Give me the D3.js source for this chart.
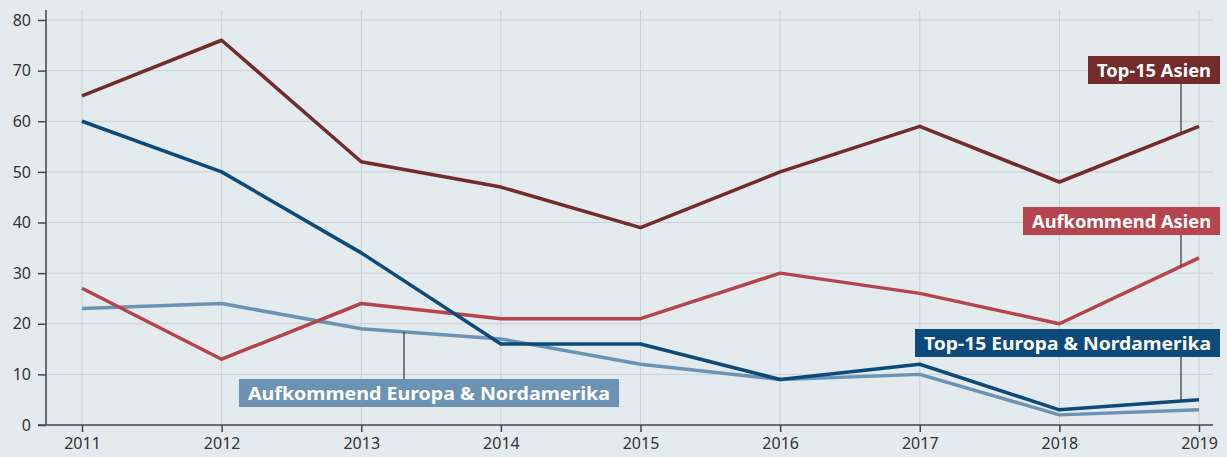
<!DOCTYPE html>
<html lang="de">
<head>
<meta charset="utf-8">
<title>linien</title>
<script src="https://cdn.jsdelivr.net/npm/d3@7"></script>
<style>
  body { margin: 0; background: #e3ebee; }
  svg { display: block; }
</style>
</head>
<body>
<script>
var w = 1227;
var h = 457;

var years = [2011, 2012, 2013, 2014, 2015, 2016, 2017, 2018, 2019];
var top15Asien = [65, 76, 52, 47, 39, 50, 59, 48, 59];
var top15EuNa = [60, 50, 34, 16, 16, 9, 12, 3, 5];
var aufkAsien = [27, 13, 24, 21, 21, 30, 26, 20, 33];
var aufkEuNa = [23, 24, 19, 17, 12, 9, 10, 2, 3];
var yTicks = [0, 10, 20, 30, 40, 50, 60, 70, 80];

// series, drawing order: light ones first
var series = [
    { name: "Aufkommend Europa & Nordamerika", values: aufkEuNa, color: "#6c93b4" },
    { name: "Aufkommend Asien", values: aufkAsien, color: "#b5444c" },
    { name: "Top-15 Europa & Nordamerika", values: top15EuNa, color: "#0b4a7b" },
    { name: "Top-15 Asien", values: top15Asien, color: "#732b2c" }
];

// label boxes: left edge, width, top y, leader x
var labels = [
    { name: "Top-15 Asien", color: "#732b2c", left: 1088, bw: 132, top: 56, lx: 1181, ls: 3 },
    { name: "Aufkommend Asien", color: "#b5444c", left: 1023, bw: 197, top: 207, lx: 1181, ls: 1 },
    { name: "Top-15 Europa & Nordamerika", color: "#0b4a7b", left: 915, bw: 305, top: 329, lx: 1181, ls: 2 },
    { name: "Aufkommend Europa & Nordamerika", color: "#6c93b4", left: 239, bw: 380, top: 379, lx: 404, ls: 0 }
];

var xScale = d3.scaleLinear()
    .domain([2011, 2019])
    .range([82, 1199]);

var yScale = d3.scaleLinear()
    .domain([0, 80])
    .range([425, 20]);

var svg = d3.select("body")
    .append("svg")
    .attr("width", w)
    .attr("height", h);

// grid
svg.selectAll("line.hgrid")
    .data(yTicks.slice(1))
    .enter()
    .append("line")
    .attr("class", "hgrid")
    .attr("x1", 46).attr("x2", 1213)
    .attr("y1", function(d){ return yScale(d); })
    .attr("y2", function(d){ return yScale(d); })
    .attr("stroke", "#c8d0d4")
    .attr("stroke-width", 1);

svg.selectAll("line.vgrid")
    .data(years)
    .enter()
    .append("line")
    .attr("class", "vgrid")
    .attr("x1", function(d){ return xScale(d); })
    .attr("x2", function(d){ return xScale(d); })
    .attr("y1", 10).attr("y2", 425)
    .attr("stroke", "#c8d0d4")
    .attr("stroke-width", 1);

// axes
var yAxis = d3.axisLeft(yScale)
    .tickValues(yTicks)
    .tickSize(8)
    .tickPadding(7);

var xAxis = d3.axisBottom(xScale)
    .tickValues(years)
    .tickFormat(d3.format("d"))
    .tickSize(7)
    .tickPadding(6);

var gy = svg.append("g")
    .attr("transform", "translate(46,0)")
    .call(yAxis);
gy.select(".domain").attr("d", "M0,10V425");

var gx = svg.append("g")
    .attr("transform", "translate(0,425)")
    .call(xAxis);
gx.select(".domain").attr("d", "M38,0H1213");

svg.selectAll(".tick text")
    .attr("font-family", "'Noto Sans', sans-serif")
    .attr("font-size", "16px")
    .attr("fill", "#333");
svg.selectAll(".domain, .tick line")
    .attr("stroke", "#444")
    .attr("stroke-width", 1.5);

// lines
var line = d3.line()
    .x(function(d, i){ return xScale(years[i]); })
    .y(function(d){ return yScale(d); });

svg.selectAll("path.series")
    .data(series)
    .enter()
    .append("path")
    .attr("class", "series")
    .attr("d", function(d){ return line(d.values); })
    .attr("fill", "none")
    .attr("stroke", function(d){ return d.color; })
    .attr("stroke-width", 3.5)
    .attr("stroke-linejoin", "round");

// labels with leader lines
labels.forEach(function(lb) {
    var g = svg.append("g");
    var s = series[lb.ls];
    // value on the line at leader x
    var t = xScale.invert(lb.lx);
    var i = Math.min(Math.floor(t - 2011), years.length - 2);
    var f = t - years[i];
    var v = s.values[i] + (s.values[i + 1] - s.values[i]) * f;
    var below = yScale(v) > lb.top;
    g.append("line")
        .attr("x1", lb.lx).attr("x2", lb.lx)
        .attr("y1", below ? lb.top + 28 : lb.top)
        .attr("y2", yScale(v))
        .attr("stroke", "#333")
        .attr("stroke-width", 1.2);
    g.append("rect")
        .attr("x", lb.left).attr("y", lb.top)
        .attr("width", lb.bw).attr("height", 28)
        .attr("fill", lb.color);
    g.append("text")
        .text(lb.name)
        .attr("x", lb.left + 9)
        .attr("y", lb.top + 21)
        .attr("textLength", lb.bw - 18)
        .attr("lengthAdjust", "spacingAndGlyphs")
        .attr("font-family", "'Noto Sans', sans-serif")
        .attr("font-weight", "bold")
        .attr("font-size", "18px")
        .attr("fill", "#fff");
});
</script>
</body>
</html>
